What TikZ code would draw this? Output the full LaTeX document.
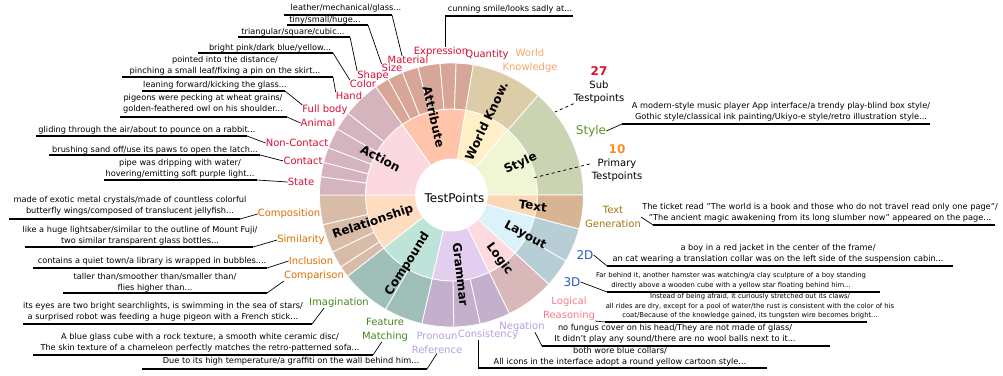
\documentclass[tikz,border=0pt]{standalone}
\usepackage{fontspec}
\setmainfont{DejaVu Sans}
\usetikzlibrary{calc}
\definecolor{cAttrI}{RGB}{255,196,170}
\definecolor{cWorldI}{RGB}{255,240,200}
\definecolor{cStyleI}{RGB}{240,246,212}
\definecolor{cTextI}{RGB}{250,216,182}
\definecolor{cLayoutI}{RGB}{220,242,250}
\definecolor{cLogicI}{RGB}{252,218,222}
\definecolor{cGramI}{RGB}{228,206,240}
\definecolor{cCompI}{RGB}{190,228,218}
\definecolor{cRelI}{RGB}{254,220,192}
\definecolor{cActI}{RGB}{252,216,224}
\definecolor{cAttrO}{RGB}{216,166,150}
\definecolor{cWorldO}{RGB}{220,204,168}
\definecolor{cStyleO}{RGB}{203,212,178}
\definecolor{cTextO}{RGB}{214,180,148}
\definecolor{cLayoutO}{RGB}{184,206,214}
\definecolor{cLogicO}{RGB}{216,184,184}
\definecolor{cGramO}{RGB}{196,176,204}
\definecolor{cCompO}{RGB}{158,192,184}
\definecolor{cRelO}{RGB}{216,188,168}
\definecolor{cActO}{RGB}{214,180,190}
\definecolor{cSubRed}{RGB}{215,15,55}
\definecolor{cSubOrange}{RGB}{225,110,0}
\definecolor{cSubGreen}{RGB}{70,135,30}
\definecolor{cSubLav}{RGB}{180,160,225}
\definecolor{cSubPink}{RGB}{245,125,140}
\definecolor{cSubBlue}{RGB}{40,90,190}
\definecolor{cSubOlive}{RGB}{160,120,10}
\definecolor{cStyleGreen}{RGB}{90,150,40}
\definecolor{cWorldPeach}{RGB}{248,165,110}
\definecolor{cNumOrange}{RGB}{255,140,30}
\newcommand{\oseg}[3]{\fill[#3,draw=white,line width=0.8pt] (#1:86) arc[start angle=#1,end angle=#2,radius=86] -- (#2:132) arc[start angle=#2,end angle=#1,radius=132] -- cycle;}
\newcommand{\iseg}[3]{\fill[#3,draw=white,line width=0.8pt] (#1:36) arc[start angle=#1,end angle=#2,radius=36] -- (#2:86) arc[start angle=#2,end angle=#1,radius=86] -- cycle;}
\newcommand{\lead}[5]{\coordinate (#1a) at (#2,-#4); \coordinate (#1b) at (#3,-#4);
  \draw[ulin] (#1a) -- (#1b); \draw[ldr] (#1b) -- (#5);}
\begin{document}
\begin{tikzpicture}[x=1pt,y=1pt,
  lt/.style={font=\fontsize{8.2}{10.6}\selectfont, align=center, inner sep=0pt},
  st/.style={font=\fontsize{6.8}{9.4}\selectfont, align=center, inner sep=0pt},
  lbl/.style={font=\fontsize{10}{14}\selectfont, align=center, inner sep=0pt},
  prim/.style={font=\bfseries\fontsize{12}{13}\selectfont, inner sep=0pt},
  ulin/.style={line width=1.4pt},
  ldr/.style={line width=0.7pt},
  dsh/.style={line width=0.8pt, dashed}]
\useasboundingbox (0,0) rectangle (1003,-375);
\fill[white] (0,0) rectangle (1003,-375);
% ---------------- wheel ----------------
\begin{scope}[shift={(451.5,-195)}]
% inner ring
\iseg{125}{80.5}{cAttrI}
\iseg{80.5}{49}{cWorldI}
\iseg{49}{0}{cStyleI}
\iseg{0}{-15}{cTextI}
\iseg{-15}{-42.5}{cLayoutI}
\iseg{-42.5}{-64}{cLogicI}
\iseg{-64}{-103}{cGramI}
\iseg{-103}{-142}{cCompI}
\iseg{-142}{-180}{cRelI}
\iseg{180}{125}{cActI}
% outer ring
\oseg{125}{118.6}{cAttrO}
\oseg{118.6}{111.8}{cAttrO}
\oseg{111.8}{104.7}{cAttrO}
\oseg{104.7}{95}{cAttrO}
\oseg{95}{88}{cAttrO}
\oseg{88}{80.5}{cAttrO}
\oseg{80.5}{49}{cWorldO}
\oseg{49}{0}{cStyleO}
\oseg{0}{-15}{cTextO}
\oseg{-15}{-30}{cLayoutO}
\oseg{-30}{-42.5}{cLayoutO}
\oseg{-42.5}{-64}{cLogicO}
\oseg{-64}{-77.5}{cGramO}
\oseg{-77.5}{-89}{cGramO}
\oseg{-89}{-103}{cGramO}
\oseg{-103}{-120}{cCompO}
\oseg{-120}{-142}{cCompO}
\oseg{-142}{-147}{cRelO}
\oseg{-147}{-154.4}{cRelO}
\oseg{-154.4}{-167}{cRelO}
\oseg{-167}{-180}{cRelO}
\oseg{180}{172}{cActO}
\oseg{172}{165.7}{cActO}
\oseg{165.7}{159}{cActO}
\oseg{159}{150}{cActO}
\oseg{150}{141.7}{cActO}
\oseg{141.7}{125}{cActO}
\fill[white] (0,0) circle[radius=36];
\node[font=\fontsize{12}{14}\selectfont, inner sep=0pt] (tp) at (3,-3) {TestPoints};
% primary labels
\node[prim, rotate=-77.25] (pAttr) at (102.75:80) {Attribute};
\node[prim, rotate=64.75] (pWorld) at (64.75:82) {World Know.};
\node[prim, rotate=24.5] (pStyle) at (24.5:76) {Style};
\node[prim, rotate=-7.5] (pText) at (-7.5:82) {Text};
\node[prim, rotate=-28.75] (pLayout) at (-28.75:84) {Layout};
\node[prim, rotate=-53.25] (pLogic) at (-53.25:80) {Logic};
\node[prim, rotate=-83.5] (pGram) at (-83.5:80) {Grammar};
\node[prim, rotate=57.5] (pComp) at (-122.5:82) {Compound};
\node[prim, rotate=19] (pRel) at (-161:83) {Relationship};
\node[prim, rotate=-27.5] (pAct) at (152.5:80) {Action};
\end{scope}
% ---------------- sub labels ----------------
\node[lbl, text=cSubRed] (color) at (363,-84) {Color};
\node[lbl, text=cSubRed] (shape) at (373,-76) {Shape};
\node[lbl, text=cSubRed] (size) at (392,-68) {Size};
\node[lbl, text=cSubRed] (material) at (408,-60) {Material};
\node[lbl, text=cSubRed] (expr) at (441,-52) {Expression};
\node[lbl, text=cSubRed] (quant) at (487,-55) {Quantity};
\node[lbl, text=cWorldPeach] (worldk) at (530,-61) {World\\Knowledge};
\node[lbl, text=cSubRed] (hand) at (349,-96) {Hand};
\node[lbl, text=cSubRed] (fullbody) at (325,-110) {Full body};
\node[lbl, text=cSubRed] (animal) at (318,-123) {Animal};
\node[lbl, text=cSubRed] (noncontact) at (297,-143) {Non-Contact};
\node[lbl, text=cSubRed] (contact) at (303,-161) {Contact};
\node[lbl, text=cSubRed] (state) at (301,-182) {State};
\node[lbl, text=cSubOrange] (composition) at (289,-214) {Composition};
\node[lbl, text=cSubOrange] (similarity) at (301,-240) {Similarity};
\node[lbl, text=cSubOrange] (inclusion) at (311,-261) {Inclusion};
\node[lbl, text=cSubOrange] (comparison) at (314,-276) {Comparison};
\node[lbl, text=cSubGreen] (imag) at (339,-303) {Imagination};
\node[lbl, text=cSubGreen] (fm) at (385,-330) {Feature\\Matching};
\node[lbl, text=cSubLav] (pr) at (437,-342.5) {Pronoun\\Reference};
\node[lbl, text=cSubLav] (cons) at (488,-335) {Consistency};
\node[lbl, text=cSubLav] (neg) at (522,-327) {Negation};
\node[lbl, text=cSubPink] (lr) at (569,-309) {Logical\\Reasoning};
\node[lbl, font=\fontsize{12}{14}\selectfont, text=cSubBlue] (threed) at (572,-282) {3D};
\node[lbl, font=\fontsize{12}{14}\selectfont, text=cSubBlue] (twod) at (585,-255) {2D};
\node[lbl, text=cSubOlive] (tg) at (613,-217) {Text\\Generation};
\node[font=\fontsize{12}{14}\selectfont, text=cStyleGreen, inner sep=0pt] (styl) at (591,-131) {Style};
\node[lbl, font=\fontsize{10}{13}\selectfont] (subtp) at (599,-85) {\textcolor{cSubRed}{\fontsize{12}{13}\selectfont\bfseries 27}\\Sub\\Testpoints};
\node[lbl, font=\fontsize{10}{13}\selectfont] (primtp) at (617,-163) {\textcolor{cNumOrange}{\fontsize{12}{13}\selectfont\bfseries 10}\\Primary\\Testpoints};
\coordinate (subend) at (555,-112);
\coordinate (primend) at (533,-178);
\draw[dsh] (subtp.south west) -- (subend);
\draw[dsh] ($(primtp.west)+(-2,-1)$) -- (primend);
% ---------------- example texts ----------------
\node[lt] (tMat) at (346,-8) {leather/mechanical/glass...};
\node[lt] (tSize) at (325,-20.5) {tiny/small/huge...};
\node[lt] (tShape) at (293,-32.5) {triangular/square/cubic...};
\node[lt] (tColor) at (270,-48) {bright pink/dark blue/yellow...};
\node[lt] (tHand) at (225,-66) {pointed into the distance/\\pinching a small leaf/fixing a pin on the skirt...};
\node[lt] (tFull) at (215,-85) {leaning forward/kicking the glass...};
\node[lt] (tAnim) at (203,-104) {pigeons were pecking at wheat grains/\\golden-feathered owl on his shoulder...};
\node[lt] (tNon) at (147,-130) {gliding through the air/about to pounce on a rabbit...};
\node[lt] (tCon) at (155,-150) {brushing sand off/use its paws to open the latch...};
\node[lt] (tState) at (180,-168.5) {pipe was dripping with water/\\hovering/emitting soft purple light...};
\node[lt] (tComp) at (130,-205.5) {made of exotic metal crystals/made of countless colorful\\butterfly wings/composed of translucent jellyfish...};
\node[lt] (tSim) at (140,-235.5) {like a huge lightsaber/similar to the outline of Mount Fuji/\\two similar transparent glass bottles...};
\node[lt] (tInc) at (152,-261) {contains a quiet town/a library is wrapped in bubbles....};
\node[lt] (tCmp) at (155,-283) {taller than/smoother than/smaller than/\\flies higher than...};
\node[lt] (tImag) at (163,-311.5) {its eyes are two bright searchlights, is swimming in the sea of stars/\\a surprised robot was feeding a huge pigeon with a French stick...};
\node[lt] (tFM) at (200,-342.5) {A blue glass cube with a rock texture, a smooth white ceramic disc/\\The skin texture of a chameleon perfectly matches the retro-patterned sofa...};
\node[lt] (tPR) at (291,-361) {Due to its high temperature/a graffiti on the wall behind him...};
\node[lt] (tCons) at (620,-357) {both wore blue collars/\\All icons in the interface adopt a round yellow cartoon style...};
\node[lt] (tNeg) at (675,-333.5) {no fungus cover on his head/They are not made of glass/\\It didn't play any sound/there are no wool balls next to it...};
\node[st] (tLR) at (750,-306.5) {Instead of being afraid, it curiously stretched out its claws/\\all rides are dry, except for a pool of water/the rust is consistent with the color of his\\coat/Because of the knowledge gained, its tungsten wire becomes bright...};
\node[st] (t3D) at (731,-280.5) {Far behind it, another hamster was watching/a clay sculpture of a boy standing\\directly above a wooden cube with a yellow star floating behind him...};
\node[lt] (t2D) at (778,-253.5) {a boy in a red jacket in the center of the frame/\\an cat wearing a translation collar was on the left side of the suspension cabin...};
\node[lt] (tTG) at (820,-212.5) {The ticket read "The world is a book and those who do not travel read only one page"/\\"The ancient magic awakening from its long slumber now" appeared on the page...};
\node[lt] (tSty) at (781,-112) {A modern-style music player App interface/a trendy play-blind box style/\\Gothic style/classical ink painting/Ukiyo-e style/retro illustration style...};
\node[lt] (tExp) at (510,-9) {cunning smile/looks sadly at...};
% ---------------- leaders ----------------
\lead{lMat}{284}{392}{15}{$(material.north)+(-6,0)$}
\lead{lSize}{287}{368}{25}{size.north west}
\lead{lShape}{238}{350}{37}{shape.north west}
\lead{lColor}{198}{333}{53}{color.north west}
\lead{lHand}{122}{333}{77}{hand.north west}
\lead{lFull}{142}{285}{91}{fullbody.north west}
\lead{lAnim}{120}{287}{117}{animal.west}
\lead{lNon}{36}{247}{136}{noncontact.west}
\lead{lCon}{49}{260}{155}{contact.west}
\lead{lState}{104}{257}{180}{state.west}
\lead{lComp}{9}{240}{219}{composition.west}
\lead{lSim}{25}{253}{247}{similarity.west}
\lead{lInc}{33}{267}{268}{inclusion.west}
\lead{lCmp}{63}{267}{293}{comparison.south west}
\lead{lImag}{23}{312}{324}{$(imag.south west)+(15,0)$}
\lead{lFM}{33}{373}{355}{$(fm.south west)+(20,0)$}
\lead{lPR}{142}{427}{369}{pr.south}
\lead{lCons}{767}{478}{368}{lConsb |- cons.south}
\lead{lNeg}{830}{542}{346}{$(neg.south east)+(-10,0)$}
\lead{lLR}{867}{605}{322}{lr.south east}
\lead{l3D}{880}{607}{292}{threed.east}
\lead{l2D}{953}{607}{266}{twod.east}
\lead{lTG}{995}{653}{225}{tg.east}
\lead{lSty}{930}{622}{124}{styl.east}
\lead{lExp}{573}{445}{16}{lExpb |- expr.north}
\end{tikzpicture}
\end{document}
